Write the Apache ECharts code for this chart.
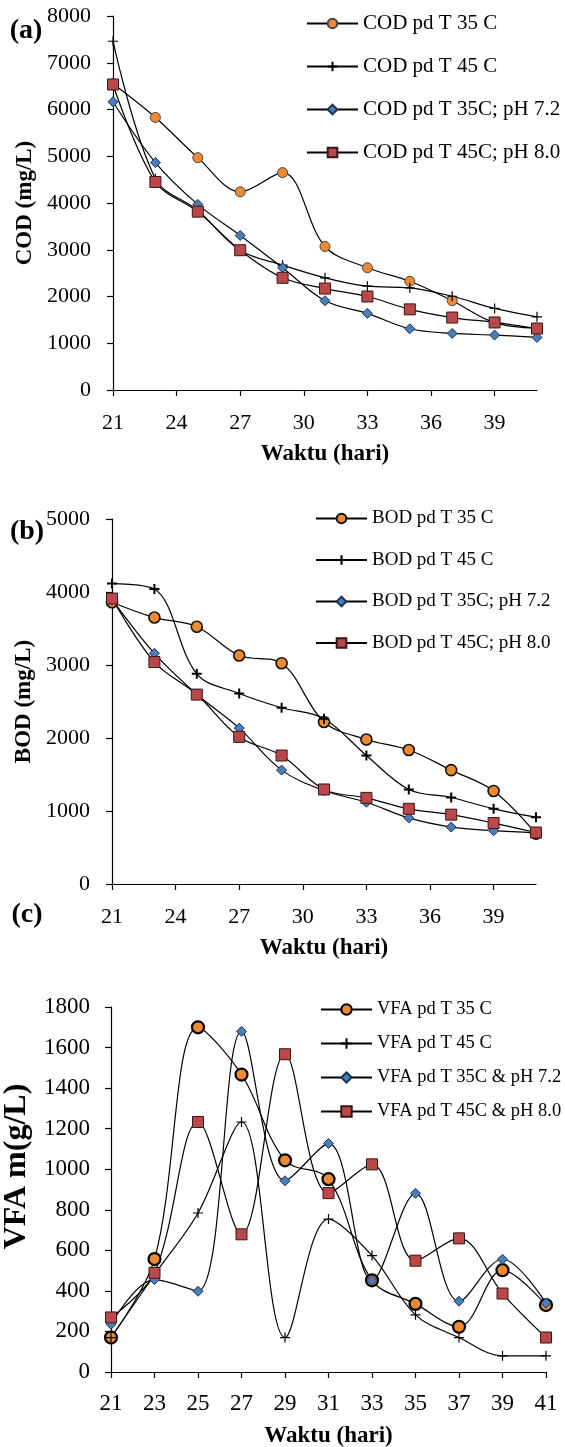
<!DOCTYPE html>
<html>
<head>
<meta charset="utf-8">
<script src="https://cdn.jsdelivr.net/npm/echarts@6/dist/echarts.min.js"></script>
<style>
html,body{margin:0;padding:0;background:#fff;}
#c{width:565px;height:1447px;}
</style>
</head>
<body>
<div id="c"></div>
<script>
// ---- data ----
const days = [21, 23, 25, 27, 29, 31, 33, 35, 37, 39, 41];
const xTicksAB = [21, 24, 27, 30, 33, 36, 39];
const xTicksC = [21, 23, 25, 27, 29, 31, 33, 35, 37, 39, 41];

const codNames = ['COD pd T 35 C', 'COD pd T 45 C', 'COD pd T 35C; pH 7.2', 'COD pd T 45C; pH 8.0'];
const cod35 = [6550, 5830, 4970, 4240, 4650, 3070, 2615, 2325, 1910, 1440, 1320];
const cod45 = [7460, 4520, 3840, 2990, 2670, 2400, 2220, 2185, 2005, 1745, 1565];
const cod35ph = [6165, 4865, 3970, 3305, 2615, 1910, 1640, 1310, 1210, 1175, 1125];
const cod45ph = [6535, 4450, 3815, 2990, 2400, 2170, 2000, 1725, 1550, 1445, 1315];

const bodNames = ['BOD pd T 35 C', 'BOD pd T 45 C', 'BOD pd T 35C; pH 7.2', 'BOD pd T 45C; pH 8.0'];
const bod35 = [3860, 3650, 3525, 3130, 3025, 2220, 1980, 1835, 1560, 1275, 690];
const bod45 = [4115, 4040, 2880, 2610, 2415, 2265, 1760, 1295, 1185, 1030, 915];
const bod35ph = [3900, 3160, 2600, 2135, 1560, 1280, 1120, 905, 780, 730, 700];
const bod45ph = [3910, 3040, 2595, 2015, 1760, 1295, 1180, 1030, 950, 835, 705];

const vfaNames = ['VFA pd T 35 C', 'VFA pd T 45 C', 'VFA pd T 35C & pH 7.2', 'VFA pd T 45C & pH 8.0'];
const vfa35 = [170, 557, 1700, 1467, 1044, 951, 452, 336, 223, 502, 330];
const vfa45 = [170, 480, 784, 1233, 170, 754, 574, 282, 170, 80, 80];
const vfa35ph = [236, 456, 398, 1680, 943, 1127, 452, 881, 349, 556, 340];
const vfa45ph = [269, 489, 1233, 679, 1567, 882, 1024, 549, 659, 387, 170];

// ---- styling ----
const FONT = '"Liberation Serif", "Times New Roman", serif';
const ORANGE = '#F08A30', BLUE = '#4A7EBB', RED = '#B9484A';
const CROSS = 'path://M5,0L5,10M0,5L10,5';

function mk(name, ys, gi, sym, size, fill, border, bw) {
  return {
    type: 'line', name: name, xAxisIndex: gi, yAxisIndex: gi,
    data: days.map((d, i) => [d, ys[i]]),
    smooth: 0.35, symbol: sym, symbolSize: size, showSymbol: true,
    lineStyle: { color: '#000', width: 1.2 },
    itemStyle: { color: fill, borderColor: border, borderWidth: bw },
    emphasis: { disabled: true }, animation: false
  };
}

function xAx(gi, ticks, fs, margin, nameGap) {
  return {
    gridIndex: gi, type: 'value', min: 21, max: 41,
    axisLine: { show: true, onZero: false, lineStyle: { color: '#000', width: 1.2 } },
    axisTick: { show: true, length: 6, customValues: ticks, lineStyle: { color: '#000', width: 1.2 } },
    axisLabel: { customValues: ticks, fontSize: fs, fontFamily: FONT, color: '#000', margin: margin },
    splitLine: { show: false },
    name: 'Waktu (hari)', nameLocation: 'middle', nameGap: nameGap,
    nameTextStyle: { fontWeight: 'bold', fontSize: 23, fontFamily: FONT, color: '#000' }
  };
}
function yAx(gi, max, interval, name, fs, margin, nameGap, nameFs, namePad) {
  return {
    gridIndex: gi, type: 'value', min: 0, max: max, interval: interval,
    axisLine: { show: true, lineStyle: { color: '#000', width: 1.2 } },
    axisTick: { show: true, length: 6, lineStyle: { color: '#000', width: 1.2 } },
    axisLabel: { fontSize: fs, fontFamily: FONT, color: '#000', margin: margin,
                 formatter: function (v) { return String(v); } },
    splitLine: { show: false },
    name: name, nameLocation: 'middle', nameGap: nameGap,
    nameTextStyle: { fontWeight: 'bold', fontSize: nameFs, fontFamily: FONT, color: '#000',
                     padding: namePad || 0 }
  };
}
function leg(names, left, top, fs, gap, ih) {
  return {
    data: names, orient: 'vertical', left: left, top: top,
    itemWidth: 51, itemHeight: ih, itemGap: gap, padding: 0,
    textStyle: { fontSize: fs, lineHeight: fs, fontFamily: FONT, color: '#000' },
    selectedMode: false
  };
}

const chart = echarts.init(document.getElementById('c'), null, { renderer: 'canvas' });
chart.setOption({
  backgroundColor: '#fff',
  animation: false,
  grid: [
    { left: 113, right: 28, top: 16, height: 374, containLabel: false, outerBoundsMode: 'none' },
    { left: 112, right: 29, top: 519, height: 365, containLabel: false, outerBoundsMode: 'none' },
    { left: 111, right: 19, top: 1007, height: 365, containLabel: false, outerBoundsMode: 'none' }
  ],
  xAxis: [xAx(0, xTicksAB, 22, 22, 53), xAx(1, xTicksAB, 22, 22, 53), xAx(2, xTicksC, 23, 20, 53)],
  yAxis: [
    yAx(0, 8000, 1000, 'COD (mg/L)', 22, 22, 71, 23),
    yAx(1, 5000, 1000, 'BOD (mg/L)', 22, 22, 71, 23),
    yAx(2, 1800, 200, 'VFA m(g/L)', 23, 21, 62, 32, [0, 0, 0, 46])
  ],
  legend: [
    leg(codNames, 306, 13, 21, 22, 12),
    leg(bodNames, 315, 509, 19, 22.5, 12),
    leg(vfaNames, 320, 1000, 18.5, 15, 13)
  ],
  graphic: [
    { type: 'text', x: 26, y: 31, style: { text: '(a)', font: 'bold 28px "Liberation Serif"', fill: '#000', textAlign: 'center', textVerticalAlign: 'middle' } },
    { type: 'text', x: 27, y: 532, style: { text: '(b)', font: 'bold 28px "Liberation Serif"', fill: '#000', textAlign: 'center', textVerticalAlign: 'middle' } },
    { type: 'text', x: 27, y: 915, style: { text: '(c)', font: 'bold 28px "Liberation Serif"', fill: '#000', textAlign: 'center', textVerticalAlign: 'middle' } }
  ],
  series: [
    mk(codNames[0], cod35, 0, 'circle', 10, ORANGE, '#444', 1),
    mk(codNames[1], cod45, 0, CROSS, 10, '#000', '#000', 1.2),
    mk(codNames[2], cod35ph, 0, 'diamond', 10, BLUE, '#1e3350', 1),
    mk(codNames[3], cod45ph, 0, 'rect', 11, RED, '#3a1515', 1),

    mk(bodNames[0], bod35, 1, 'circle', 11, ORANGE, '#111', 1.6),
    mk(bodNames[1], bod45, 1, CROSS, 10, '#000', '#000', 2),
    mk(bodNames[2], bod35ph, 1, 'diamond', 10, BLUE, '#1e3350', 1),
    mk(bodNames[3], bod45ph, 1, 'rect', 11, RED, '#3a1515', 1),

    mk(vfaNames[0], vfa35, 2, 'circle', 12, ORANGE, '#000', 2.2),
    mk(vfaNames[1], vfa45, 2, CROSS, 10, '#000', '#000', 1.2),
    mk(vfaNames[2], vfa35ph, 2, 'diamond', 10, BLUE, '#1e3350', 1),
    mk(vfaNames[3], vfa45ph, 2, 'rect', 11, RED, '#3a1515', 1)
  ]
});
</script>
</body>
</html>
